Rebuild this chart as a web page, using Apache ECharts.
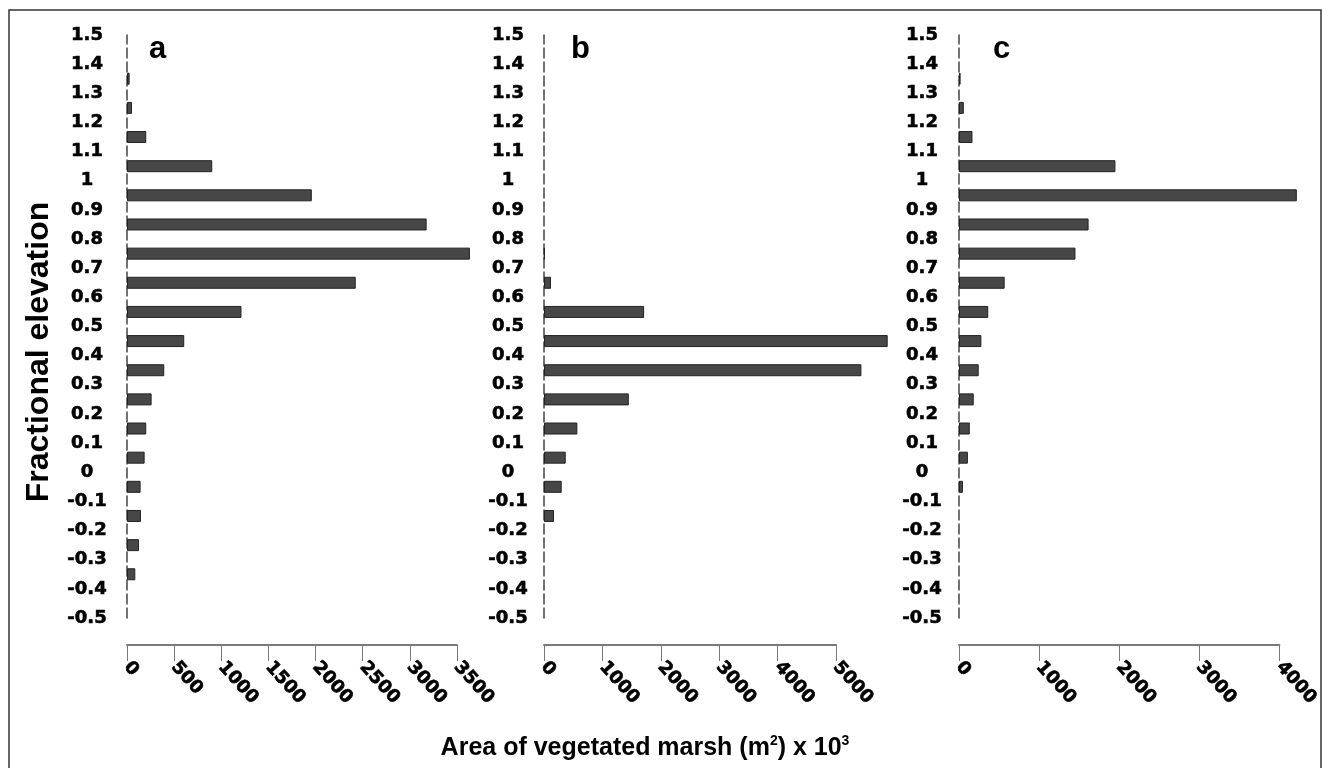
<!DOCTYPE html>
<html>
<head>
<meta charset="utf-8">
<script src="https://cdn.jsdelivr.net/npm/echarts@6/dist/echarts.min.js"></script>
<style>
  html, body { margin: 0; padding: 0; background: #fff; }
  #chart { width: 1322px; height: 768px; }
</style>
</head>
<body>
<div id="chart"></div>
<script>
// elevation bins (bar centres), bottom to top
const binCenters = ['-0.45', '-0.35', '-0.25', '-0.15', '-0.05', '0.05', '0.15', '0.25', '0.35', '0.45',
  '0.55', '0.65', '0.75', '0.85', '0.95', '1.05', '1.15', '1.25', '1.35', '1.45'];
// tick labels on the elevation axis, bottom to top
const elevationTicks = ['-0.5', '-0.4', '-0.3', '-0.2', '-0.1', '0', '0.1', '0.2', '0.3', '0.4', '0.5',
  '0.6', '0.7', '0.8', '0.9', '1', '1.1', '1.2', '1.3', '1.4', '1.5'];

// area of vegetated marsh (m2 x 10^3) per bin
const areaA = [0, 88, 127, 148, 144, 187, 204, 261, 395, 607, 1214, 2426, 3637, 3178, 1960, 904, 204, 53, 28, 0];
const areaB = [0, 0, 0, 171, 303, 372, 571, 1452, 5435, 5885, 1714, 120, 10, 0, 0, 0, 0, 0, 0, 0];
const areaC = [0, 0, 0, 0, 49, 111, 135, 184, 246, 279, 365, 570, 1454, 1618, 4218, 1953, 168, 60, 20, 0];

const panelLetters = ['a', 'b', 'c'];
const axisMax = [3500, 5000, 4000];
const axisStep = [500, 1000, 1000];

const chart = echarts.init(document.getElementById('chart'));

const gridBoxes = [
  { left: 127, top: 35, width: 330, height: 583 },
  { left: 544, top: 35, width: 292, height: 583 },
  { left: 959, top: 35, width: 322, height: 583 }
];
const labelMargins = [40, 36, 37];
const letterX = [149, 571, 993];
const allData = [areaA, areaB, areaC];

const tickFont = {
  fontFamily: 'DejaVu Sans', fontWeight: 'bold', fontSize: 18, color: '#000',
  textBorderColor: '#000', textBorderWidth: 0.6
};

const xAxes = [];
const yAxes = [];
const series = [];

gridBoxes.forEach((g, i) => {
  xAxes.push({
    type: 'value',
    gridIndex: i,
    min: 0,
    max: axisMax[i],
    interval: axisStep[i],
    position: 'bottom',
    offset: 27,
    axisLine: { show: true, lineStyle: { color: '#7a7a7a', width: 2 } },
    axisTick: { show: true, length: 16, lineStyle: { color: '#7a7a7a', width: 1 } },
    axisLabel: Object.assign({ rotate: -48, margin: 19, formatter: (v) => String(v) }, tickFont),
    splitLine: { show: false }
  });
  // hidden band axis used by the bars
  yAxes.push({
    type: 'category',
    gridIndex: i,
    data: binCenters,
    boundaryGap: true,
    show: false
  });
  // boundary labels + dashed axis line
  yAxes.push({
    type: 'category',
    gridIndex: i,
    data: elevationTicks,
    boundaryGap: false,
    position: 'left',
    axisLine: { show: true, onZero: false, lineStyle: { color: '#444', width: 1.5, type: [10, 4] } },
    axisTick: { show: false },
    axisLabel: Object.assign({ margin: labelMargins[i], align: 'center', interval: 0 }, tickFont),
    splitLine: { show: false }
  });
  series.push({
    type: 'bar',
    xAxisIndex: i,
    yAxisIndex: i * 2,
    data: allData[i].map((v) => (v === 0 ? null : v)),
    barWidth: 12,
    clip: false,
    silent: true,
    itemStyle: { color: '#474747', borderColor: '#222', borderWidth: 1 }
  });
});

const graphics = [
  {
    type: 'rect',
    shape: { x: 9, y: 10, width: 1312, height: 760 },
    style: { fill: 'none', stroke: '#333', lineWidth: 1.5 },
    silent: true
  },
  {
    type: 'text',
    x: 645,
    y: 748,
    style: {
      text: 'Area of vegetated marsh (m{sup|2}) x 10{sup|3}',
      font: 'bold 25px "Liberation Sans"',
      fill: '#000',
      align: 'center',
      verticalAlign: 'middle',
      rich: {
        sup: { fontFamily: 'Liberation Sans', fontWeight: 'bold', fontSize: 14, verticalAlign: 'top', padding: [0, 0, 14, 0] }
      }
    }
  },
  {
    type: 'text',
    x: 39,
    y: 352,
    rotation: Math.PI / 2,
    style: {
      text: 'Fractional elevation',
      font: 'bold 32px "Liberation Sans"',
      fill: '#000',
      align: 'center',
      verticalAlign: 'middle'
    }
  }
];

panelLetters.forEach((t, i) => {
  graphics.push({
    type: 'text',
    x: letterX[i],
    y: 49,
    style: { text: t, font: 'bold 31px "Liberation Sans"', fill: '#000', align: 'left', verticalAlign: 'middle' }
  });
});

chart.setOption({
  animation: false,
  backgroundColor: '#fff',
  grid: gridBoxes,
  xAxis: xAxes,
  yAxis: yAxes,
  series: series,
  graphic: graphics
});

window.addEventListener('resize', () => chart.resize());
</script>
</body>
</html>
